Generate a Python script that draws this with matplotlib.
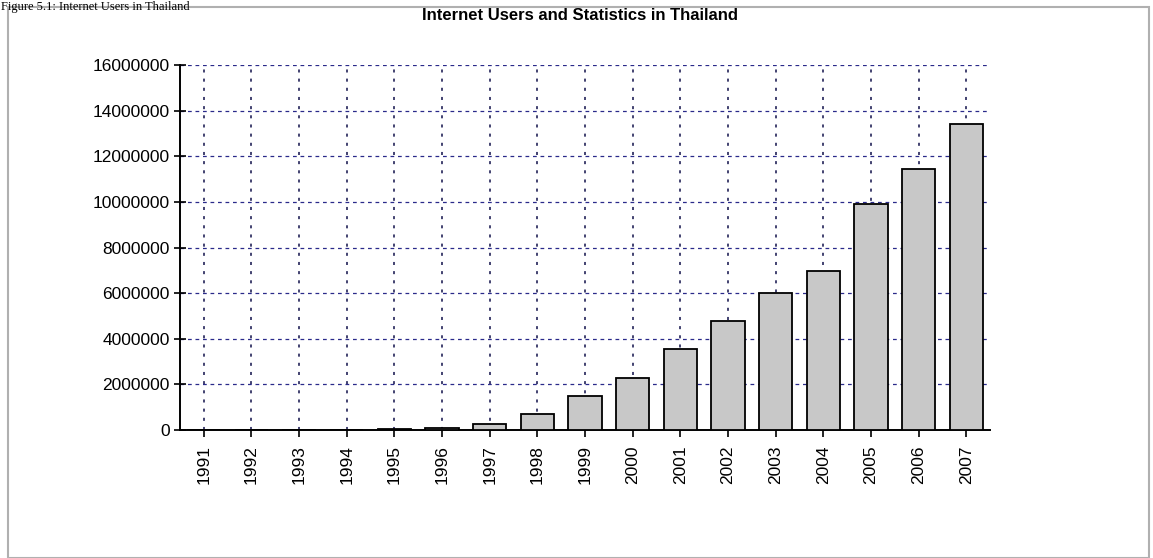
import numpy as np
import matplotlib
matplotlib.use("Agg")
import matplotlib.pyplot as plt
from matplotlib.patches import Rectangle

# === data ===
years = [str(y) for y in range(1991, 2008)]
users = [0, 0, 0, 0, 45000, 70000, 250000, 680000, 1500000, 2300000,
         3536000, 4800000, 6000000, 6970000, 9900000, 11450000, 13420000]
y_ticks = list(range(0, 16000001, 2000000))

title = "Internet Users and Statistics in Thailand"
caption = "Figure 5.1: Internet Users in Thailand"

plt.rcParams['font.family'] = ['Liberation Sans', 'DejaVu Sans']

fig = plt.figure(figsize=(11.53, 5.58), dpi=100)

# outer frame of the screenshot
fig.patches.append(Rectangle((8 / 1153, 0), 1141 / 1153, 551 / 558,
                             transform=fig.transFigure, fill=False,
                             edgecolor='#b0b0b0', linewidth=1.5))
# caption at the very top (cut off in the source screenshot)
fig.text(0.001, 0.999, caption, family='Liberation Serif', fontsize=9,
         va='top', ha='left', color='black')

ax = fig.add_axes([180 / 1153, 128 / 558, 810 / 1153, 365 / 558])
x = np.arange(len(years))
ax.bar(x, users, width=0.7, color='#c8c8c8', edgecolor='black',
       linewidth=1.3, zorder=3)

ax.set_xlim(-0.5, len(years) - 0.5)
ax.set_ylim(0, 16000000)
ax.set_xticks(x)
ax.set_xticklabels(years, rotation=90, fontsize=12.5)
ax.set_yticks(y_ticks)
ax.set_yticklabels([str(v) for v in y_ticks], fontsize=12.5)
ax.tick_params(axis='y', direction='inout', length=8, width=1.2)
ax.tick_params(axis='x', direction='out', length=5, width=1.2, pad=6)

ax.grid(axis='x', color='#10104a', linestyle=(0, (2, 4)), linewidth=1.1, zorder=1)
ax.grid(axis='y', color='#2a2a8a', linestyle=(0, (3, 3)), linewidth=0.9, zorder=1)

ax.spines['top'].set_visible(False)
ax.spines['right'].set_visible(False)
ax.spines['left'].set_linewidth(1.4)
ax.spines['bottom'].set_linewidth(1.4)

fig.text(580 / 1153, 1 - 16 / 558, title, fontsize=12, fontweight='bold',
         ha='center', va='center')

fig.savefig("out.png", dpi=100)
